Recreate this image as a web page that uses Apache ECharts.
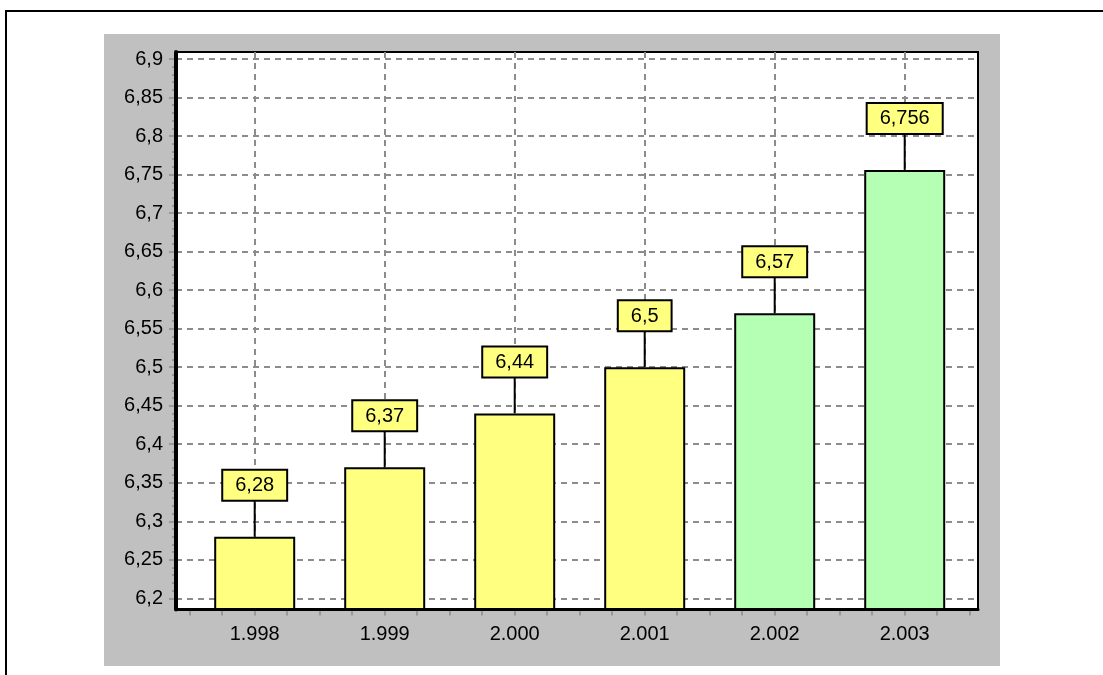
<!DOCTYPE html>
<html>
<head>
<meta charset="utf-8">
<title>Valores anuales</title>
<script src="https://cdn.jsdelivr.net/npm/echarts@6/dist/echarts.min.js"></script>
<style>
  html, body { margin: 0; padding: 0; background: #ffffff; }
  #chart { width: 1103px; height: 675px; }
</style>
</head>
<body>
<div id="chart"></div>
<script>
// Years on the horizontal axis and the value recorded for each
const years = [1998, 1999, 2000, 2001, 2002, 2003];
const values = [6.28, 6.37, 6.44, 6.5, 6.57, 6.756];
// Fill per bar: measured years in yellow, later years in green
const barColors = ['#ffff80', '#ffff80', '#ffff80', '#ffff80', '#b5ffb5', '#b5ffb5'];
// Value axis: labelled range and step
const yTickMin = 6.2;
const yTickMax = 6.9;
const yTickStep = 0.05;

// Layout (px)
const FONT = 'Liberation Sans, Arial, sans-serif';
const FS = 20;
const plotLeft = 176, plotRight = 978, plotTop = 52, plotBottom = 609.5;
const tickTop = 59, tickBottom = 598.3;       // y of the top/bottom labelled ticks
const firstCenter = 254.7, step = 130;        // x of the first year, px per year
const barWidth = 81;
const leaderLen = 37;                         // connector from bar top to value box

// Scale of the frame in data units so bars rise from the bottom of the frame
const yPerPx = (yTickMax - yTickMin) / (tickBottom - tickTop);
const frameYMin = yTickMin - (plotBottom - tickBottom) * yPerPx;
const frameYMax = yTickMax + (tickTop - plotTop) * yPerPx;
const frameXMin = years[0] - (firstCenter - plotLeft) / step;
const frameXMax = years[years.length - 1] + (plotRight - (firstCenter + step * (years.length - 1))) / step;

const comma = v => String(Math.round(v * 1000) / 1000).replace('.', ',');
const thousands = v => {
  const s = String(Math.round(v));
  return s.slice(0, s.length - 3) + '.' + s.slice(s.length - 3);
};

const gridDash = { color: '#8c8c8c', width: 2, type: [6, 5] };
const tickGrey = { color: '#8c8c8c', width: 1.5 };
const hidden = { show: false };

const chart = echarts.init(document.getElementById('chart'), null, { renderer: 'canvas' });

chart.setOption({
  animation: false,
  backgroundColor: '#ffffff',
  graphic: [
    // outer page frame
    { type: 'rect', z: -20, shape: { x: 6, y: 11, width: 1200, height: 800 },
      style: { fill: '#ffffff', stroke: '#000000', lineWidth: 2 }, silent: true },
    // grey chart panel
    { type: 'rect', z: -10, shape: { x: 104, y: 34, width: 896, height: 632 },
      style: { fill: '#c0c0c0' }, silent: true }
  ],
  grid: [
    // 0: plot frame with bars
    { left: plotLeft, top: plotTop, width: plotRight - plotLeft, height: plotBottom - plotTop,
      show: true, backgroundColor: '#ffffff', borderColor: '#000000', borderWidth: 2 },
    // 1: value ticks, labels and horizontal grid lines
    { left: plotLeft, top: tickTop, width: plotRight - plotLeft, height: tickBottom - tickTop },
    // 2: quarter-year ticks under the axis
    { left: firstCenter - step / 2, top: plotTop, width: step * years.length, height: plotBottom - plotTop },
    // 3: year labels and vertical grid lines
    { left: firstCenter, top: plotTop, width: step * (years.length - 1), height: plotBottom - plotTop }
  ],
  xAxis: [
    { gridIndex: 0, type: 'value', min: frameXMin, max: frameXMax,
      axisLine: { show: true, onZero: false, lineStyle: { color: '#000', width: 3 } },
      axisTick: hidden, axisLabel: hidden, splitLine: hidden, z: 5 },
    { gridIndex: 1, type: 'value', min: 0, max: 1, show: false },
    { gridIndex: 2, type: 'value', min: years[0] - 0.5, max: years[years.length - 1] + 0.5, interval: 0.25,
      axisLine: hidden, axisLabel: hidden, splitLine: hidden,
      axisTick: { show: true, length: 6, lineStyle: tickGrey } },
    { gridIndex: 3, type: 'value', min: years[0], max: years[years.length - 1], interval: 1,
      axisLine: hidden, axisTick: hidden,
      axisLabel: { show: true, margin: 15, color: '#000', fontFamily: FONT, fontSize: FS, formatter: thousands },
      splitLine: { show: true, lineStyle: gridDash } }
  ],
  yAxis: [
    { gridIndex: 0, type: 'value', min: frameYMin, max: frameYMax,
      axisLine: { show: true, onZero: false, lineStyle: { color: '#000', width: 4 } },
      axisTick: hidden, axisLabel: hidden, splitLine: hidden, z: 5 },
    { gridIndex: 1, type: 'value', min: yTickMin, max: yTickMax, interval: yTickStep,
      axisLine: hidden,
      axisTick: { show: true, length: 7, lineStyle: tickGrey },
      minorTick: { show: true, splitNumber: 5, length: 4, lineStyle: tickGrey },
      axisLabel: { show: true, margin: 13, color: '#000', fontFamily: FONT, fontSize: FS, formatter: comma },
      splitLine: { show: true, lineStyle: gridDash } },
    { gridIndex: 2, type: 'value', min: 0, max: 1, show: false },
    { gridIndex: 3, type: 'value', min: 0, max: 1, show: false }
  ],
  series: [
    {
      type: 'bar', xAxisIndex: 0, yAxisIndex: 0, barWidth: barWidth, z: 3,
      data: years.map((y, i) => ({
        value: [y, values[i]],
        itemStyle: { color: barColors[i], borderColor: '#000', borderWidth: 2 }
      }))
    },
    {
      type: 'custom', xAxisIndex: 0, yAxisIndex: 0, z: 4,
      data: years.map((y, i) => [y, values[i]]),
      renderItem: (params, api) => {
        const v = api.value(1);
        const p = api.coord([api.value(0), v]);
        return {
          type: 'group',
          children: [
            { type: 'line', shape: { x1: p[0], y1: p[1], x2: p[0], y2: p[1] - leaderLen },
              style: { stroke: '#000', lineWidth: 2 } },
            { type: 'text', x: p[0], y: p[1] - leaderLen,
              style: {
                text: comma(v), font: FS + 'px ' + FONT, fill: '#000',
                align: 'center', verticalAlign: 'bottom',
                backgroundColor: '#ffff80', borderColor: '#000', borderWidth: 2,
                padding: [5, 12, 4, 12]
              } }
          ]
        };
      }
    }
  ]
});
</script>
</body>
</html>
